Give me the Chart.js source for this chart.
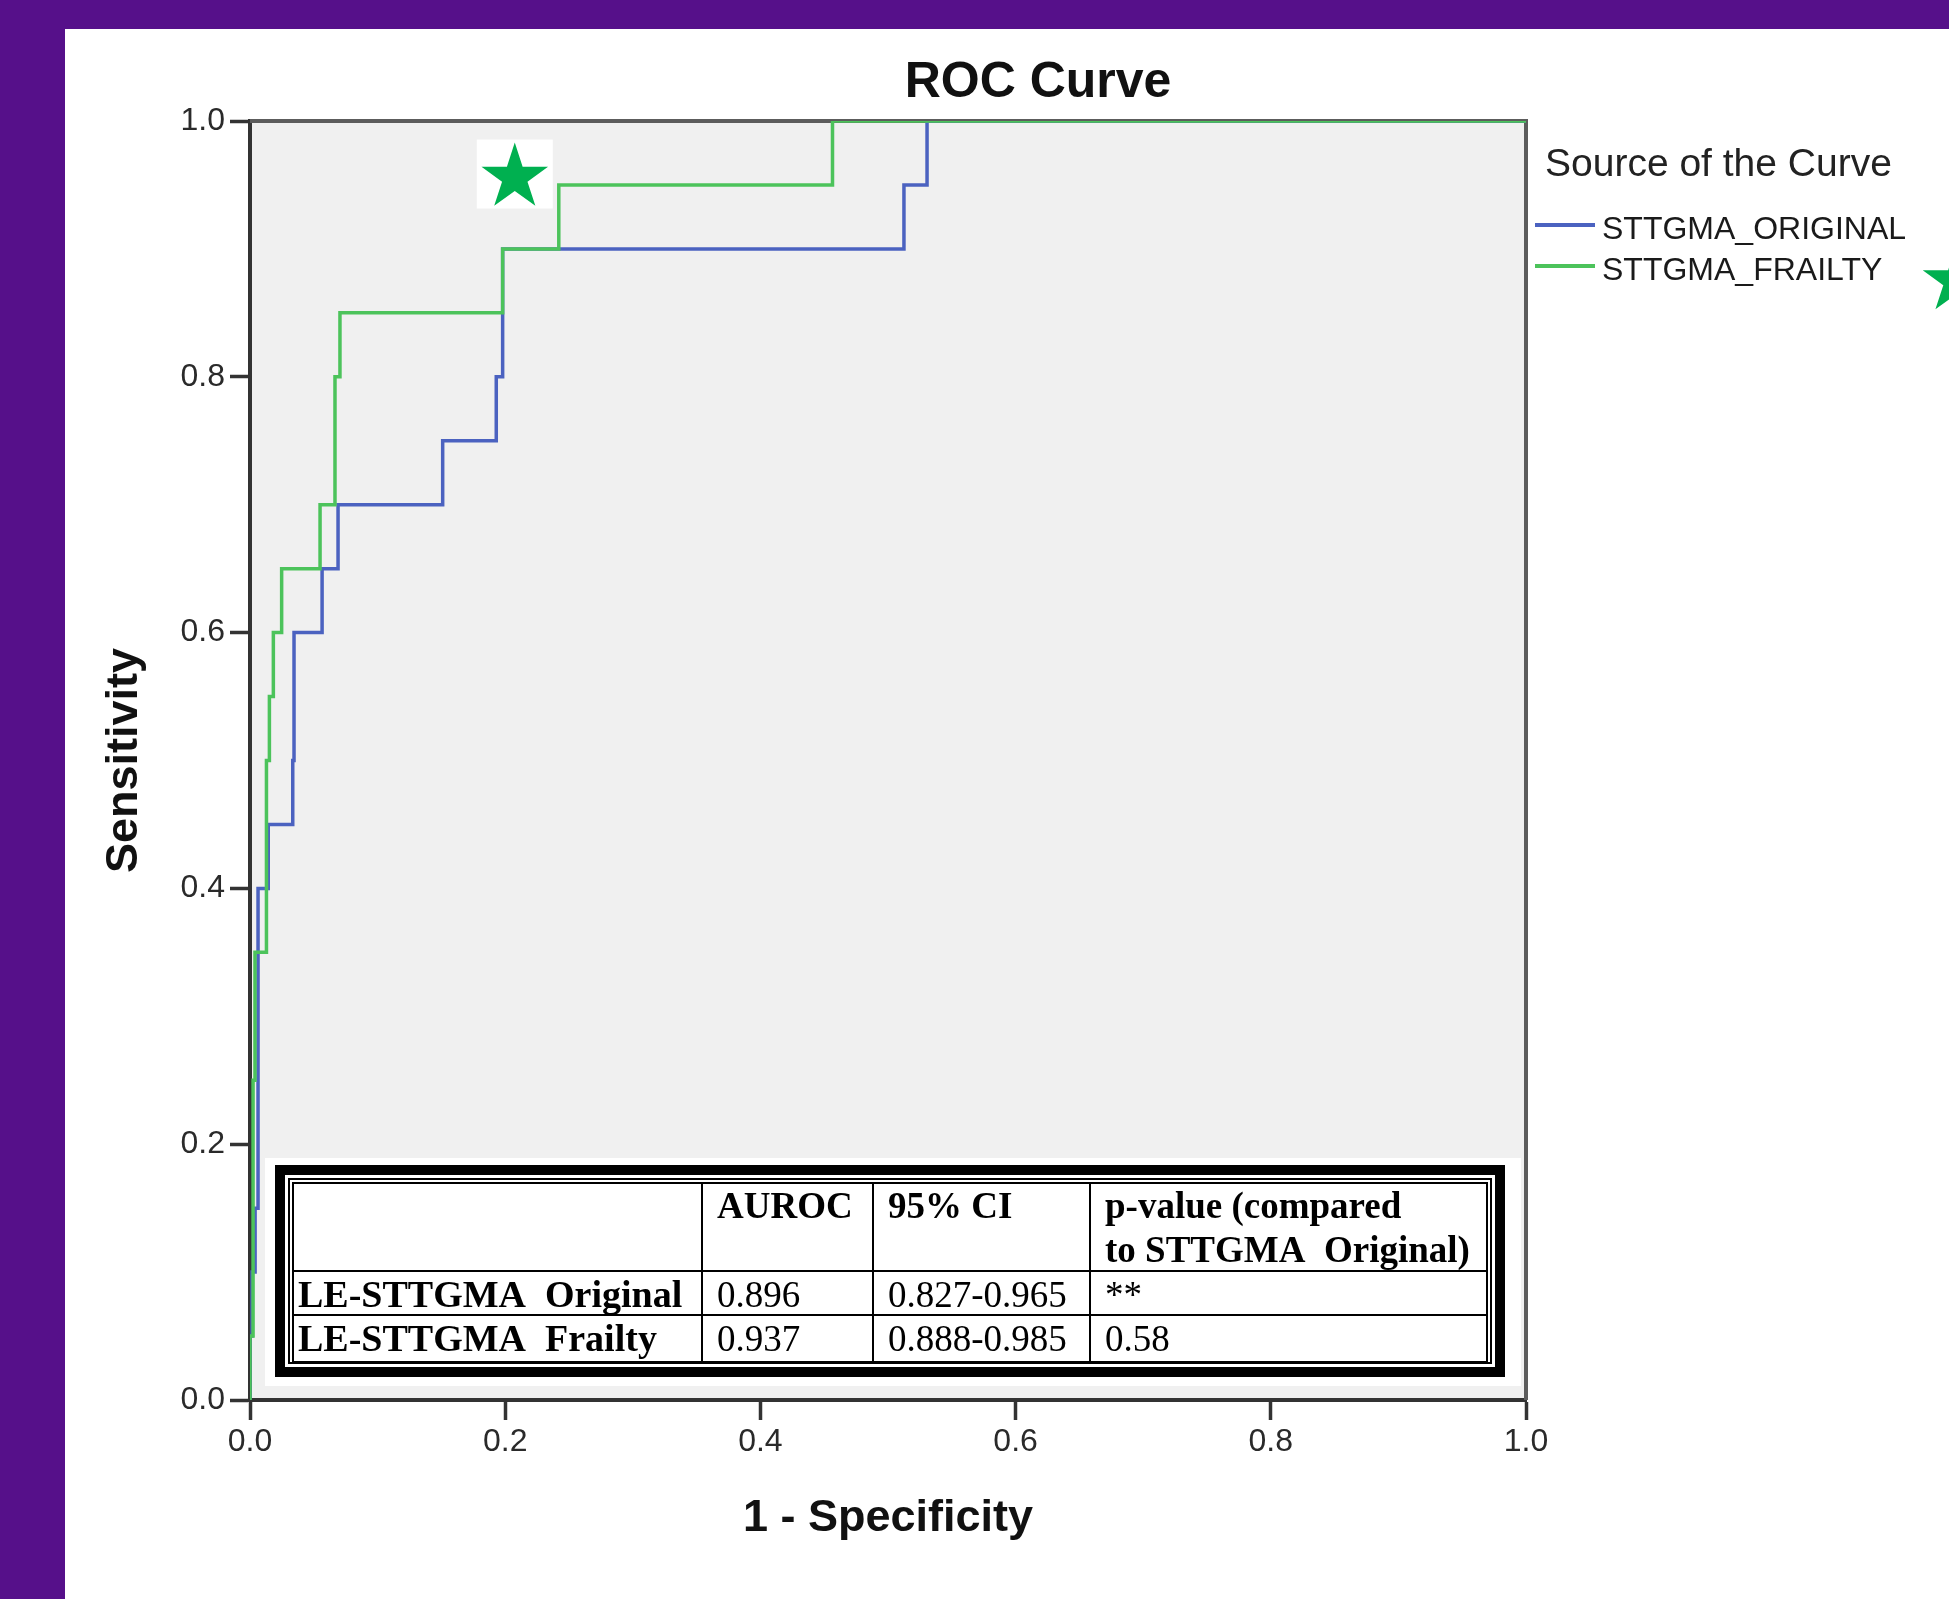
<!DOCTYPE html>
<html>
<head>
<meta charset="utf-8">
<title>ROC Curve</title>
<script src="https://cdn.jsdelivr.net/npm/chart.js@4.4.1/dist/chart.umd.min.js"></script>
<style>
    html, body { margin: 0; padding: 0; }
    body { width: 1949px; height: 1599px; background: #56108a; overflow: hidden; position: relative; }
    #panel { position: absolute; left: 65px; top: 29px; width: 1884px; height: 1570px; background: #ffffff; }
    #rocChart { display: block; }
</style>
</head>
<body>
<div id="panel"><canvas id="rocChart" width="1884" height="1570"></canvas></div>
<script>
// ---- data ----
const seriesNames = ['STTGMA_ORIGINAL', 'STTGMA_FRAILTY'];
const tickLabels = ['0.0', '0.2', '0.4', '0.6', '0.8', '1.0'];

// ROC vertices (1 - specificity, sensitivity)
const fprOriginal = [0, 0, 0.0016, 0.0016, 0.004, 0.004, 0.0063, 0.0063, 0.0143, 0.0143, 0.0335, 0.0335, 0.0345, 0.0345, 0.0565, 0.0565, 0.069, 0.069, 0.151, 0.151, 0.193, 0.193, 0.198, 0.198, 0.5125, 0.5125, 0.5306, 0.5306, 1.0];
const tprOriginal = [0, 0.05, 0.05, 0.10, 0.10, 0.15, 0.15, 0.40, 0.40, 0.45, 0.45, 0.50, 0.50, 0.60, 0.60, 0.65, 0.65, 0.70, 0.70, 0.75, 0.75, 0.80, 0.80, 0.90, 0.90, 0.95, 0.95, 1.0, 1.0];

const fprFrailty = [0, 0, 0.0024, 0.0024, 0.0039, 0.0039, 0.0129, 0.0129, 0.0152, 0.0152, 0.0183, 0.0183, 0.0248, 0.0248, 0.0549, 0.0549, 0.0666, 0.0666, 0.0705, 0.0705, 0.198, 0.198, 0.242, 0.242, 0.4565, 0.4565, 1.0];
const tprFrailty = [0, 0.05, 0.05, 0.25, 0.25, 0.35, 0.35, 0.50, 0.50, 0.55, 0.55, 0.60, 0.60, 0.65, 0.65, 0.70, 0.70, 0.80, 0.80, 0.85, 0.85, 0.90, 0.90, 0.95, 0.95, 1.0, 1.0];

const tableHeader = ['', 'AUROC', '95% CI', ['p-value (compared', 'to STTGMA  Original)']];
const tableRows = [
    ['LE-STTGMA  Original', '0.896', '0.827-0.965', '**'],
    ['LE-STTGMA  Frailty', '0.937', '0.888-0.985', '0.58']
];

// star marker next to the frailty curve
const starPoint = { x: 0.2075, y: 0.955 };

const SANS = '"Liberation Sans", Arial, sans-serif';
const SERIF = '"Liberation Serif", "Times New Roman", serif';
const BLUE = '#4b62c0';
const GREEN = '#4cc35b';
const STAR_GREEN = '#00b050';

function toPoints(xs, ys) {
    return xs.map((x, i) => ({ x: x, y: ys[i] }));
}

function drawStar(ctx, cx, cy, R) {
    const r = R * 0.382;
    ctx.beginPath();
    for (let i = 0; i < 10; i++) {
        const rad = i % 2 === 0 ? R : r;
        const a = -Math.PI / 2 + i * Math.PI / 5;
        const px = cx + rad * Math.cos(a);
        const py = cy + rad * Math.sin(a);
        if (i === 0) ctx.moveTo(px, py); else ctx.lineTo(px, py);
    }
    ctx.closePath();
    ctx.fillStyle = STAR_GREEN;
    ctx.fill();
}

// plot background + top/right frame
const framePlugin = {
    id: 'frame',
    beforeDraw(chart) {
        const { ctx, chartArea: a } = chart;
        ctx.save();
        ctx.fillStyle = '#f0f0f0';
        ctx.fillRect(a.left, a.top, a.right - a.left, a.bottom - a.top);
        ctx.restore();
    },
    beforeDatasetsDraw(chart) {
        const { ctx, chartArea: a } = chart;
        ctx.save();
        ctx.strokeStyle = '#5c5c5c';
        ctx.lineWidth = 4;
        ctx.beginPath();
        ctx.moveTo(a.left, a.top);
        ctx.lineTo(a.right, a.top);
        ctx.lineTo(a.right, a.bottom);
        ctx.stroke();
        ctx.restore();
    }
};

// title, legend, star and inset table
const annotatePlugin = {
    id: 'annotate',
    afterDraw(chart) {
        const { ctx, chartArea: a, scales } = chart;
        ctx.save();

        // title
        ctx.fillStyle = '#111';
        ctx.font = 'bold 50px ' + SANS;
        ctx.textAlign = 'center';
        ctx.textBaseline = 'alphabetic';
        ctx.fillText('ROC Curve', 973, 68);

        // legend
        const lx = a.right + 9;
        ctx.textAlign = 'left';
        ctx.fillStyle = '#222';
        ctx.font = '39px ' + SANS;
        ctx.fillText('Source of the Curve', lx + 10, 147);
        ctx.font = '32px ' + SANS;
        const legendY = [196, 237];
        chart.data.datasets.forEach((ds, i) => {
            ctx.strokeStyle = ds.borderColor;
            ctx.lineWidth = 4;
            ctx.beginPath();
            ctx.moveTo(lx, legendY[i]);
            ctx.lineTo(lx + 60, legendY[i]);
            ctx.stroke();
            ctx.fillStyle = '#1a1a1a';
            ctx.fillText(ds.label, lx + 67, legendY[i] + 14);
        });
        drawStar(ctx, 1891, 252, 35);

        // star in the plot
        const sx = scales.x.getPixelForValue(starPoint.x);
        const sy = scales.y.getPixelForValue(starPoint.y);
        ctx.fillStyle = '#ffffff';
        ctx.fillRect(sx - 38, sy - 39, 76, 69);
        drawStar(ctx, sx, sy - 1, 35);

        // inset table
        const L = a.left, B = a.bottom;
        ctx.fillStyle = '#ffffff';
        ctx.fillRect(L + 15, B - 242, 1256, 228);
        ctx.fillStyle = '#000000';
        ctx.fillRect(L + 25, B - 235, 1230, 212);
        ctx.fillStyle = '#ffffff';
        ctx.fillRect(L + 35, B - 225, 1210, 192);
        ctx.strokeStyle = '#000000';
        ctx.lineWidth = 2;
        ctx.strokeRect(L + 39, B - 221, 1202, 184);

        const tTop = B - 217, tBottom = B - 38;
        const colX = [L + 43, L + 452, L + 623, L + 840, L + 1237];
        const rowY = [tTop, B - 129, B - 85, tBottom];
        ctx.strokeRect(colX[0], tTop, colX[4] - colX[0], tBottom - tTop);
        ctx.beginPath();
        for (let i = 1; i < 4; i++) {
            ctx.moveTo(colX[i], tTop);
            ctx.lineTo(colX[i], tBottom);
        }
        for (let j = 1; j < 3; j++) {
            ctx.moveTo(colX[0], rowY[j]);
            ctx.lineTo(colX[4], rowY[j]);
        }
        ctx.stroke();

        ctx.fillStyle = '#000000';
        ctx.font = 'bold 37px ' + SERIF;
        tableHeader.forEach((h, c) => {
            const lines = Array.isArray(h) ? h : [h];
            lines.forEach((t, k) => ctx.fillText(t, colX[c] + 15, tTop + 35 + k * 44));
        });
        tableRows.forEach((row, r) => {
            const base = rowY[r + 1] + 36;
            row.forEach((cell, c) => {
                ctx.font = c === 0 ? 'bold 38px ' + SERIF : '37px ' + SERIF;
                ctx.fillText(cell, colX[c] + (c === 0 ? 5 : 15), base);
            });
        });

        ctx.restore();
    }
};

const rocChart = new Chart(document.getElementById('rocChart'), {
    type: 'scatter',
    data: {
        datasets: [
            {
                label: seriesNames[0],
                data: toPoints(fprOriginal, tprOriginal),
                showLine: true,
                borderColor: BLUE,
                backgroundColor: BLUE,
                borderWidth: 3.5,
                pointRadius: 0,
                order: 1
            },
            {
                label: seriesNames[1],
                data: toPoints(fprFrailty, tprFrailty),
                showLine: true,
                borderColor: GREEN,
                backgroundColor: GREEN,
                borderWidth: 3.5,
                pointRadius: 0,
                order: 0
            }
        ]
    },
    options: {
        responsive: false,
        animation: false,
        layout: { padding: { top: 92, left: 0, right: 423, bottom: 49 } },
        plugins: {
            legend: { display: false },
            title: { display: false },
            tooltip: { enabled: false }
        },
        scales: {
            x: {
                type: 'linear',
                min: 0,
                max: 1,
                afterFit: scale => { scale.height = 150; },
                ticks: {
                    stepSize: 0.2,
                    maxRotation: 0,
                    padding: 3,
                    color: '#2a2a2a',
                    font: { family: SANS, size: 32 },
                    callback: (v, i) => tickLabels[i]
                },
                grid: { drawOnChartArea: false, drawTicks: true, tickLength: 20, tickWidth: 3.5, tickColor: '#333' },
                border: { color: '#333', width: 4 },
                title: {
                    display: true,
                    text: '1 - Specificity',
                    color: '#111',
                    font: { family: SANS, size: 45, weight: 'bold' },
                    padding: { top: 0, bottom: 4 }
                }
            },
            y: {
                type: 'linear',
                min: 0,
                max: 1,
                afterFit: scale => { scale.width = 185; },
                ticks: {
                    stepSize: 0.2,
                    padding: 5,
                    color: '#2a2a2a',
                    font: { family: SANS, size: 32 },
                    callback: (v, i) => tickLabels[i]
                },
                grid: { drawOnChartArea: false, drawTicks: true, tickLength: 20, tickWidth: 3.5, tickColor: '#333' },
                border: { color: '#333', width: 4 },
                title: {
                    display: true,
                    text: 'Sensitivity',
                    color: '#111',
                    font: { family: SANS, size: 45, weight: 'bold' },
                    padding: { top: 33, bottom: 0 }
                }
            }
        }
    },
    plugins: [framePlugin, annotatePlugin]
});
</script>
</body>
</html>
